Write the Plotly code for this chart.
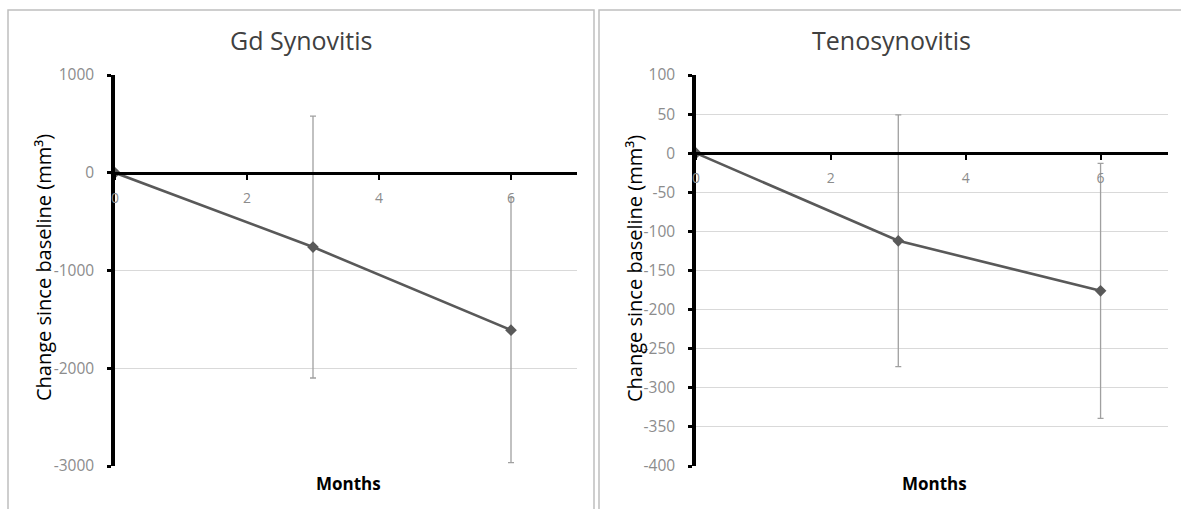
import plotly.graph_objects as go

months = [0, 3, 6]
gd_values = [0, -760, -1610]
gd_err = [0, 1340, 1355]
teno_values = [0, -112, -176]
teno_err = [0, 161, 163]

titles = ["Gd Synovitis", "Tenosynovitis"]
y_title = "Change since baseline (mm³)"
x_title = "Months"
x_ticks = [0, 2, 4, 6]
x_range = [0, 7]
gd_range = [-3000, 1000]
gd_ticks = [-3000, -2000, -1000, 0, 1000]
gd_tick_labels = ["-3000", "-2000", "-1000", "0", "1000"]
teno_range = [-400, 100]
teno_ticks = [-400, -350, -300, -250, -200, -150, -100, -50, 0, 50, 100]
teno_tick_labels = ["-400", "-350", "-300", "-250", "-200", "-150", "-100",
                    "-50", "0", "50", "100"]

W, H = 1181, 509
FONT = "Open Sans"
ydom = [1 - 466 / H, 1 - 75 / H]
xdoms = [[115 / W, 577 / W], [696 / W, 1168 / W]]
title_x = [301 / W, 891 / W]
ytitle_x = [43 / W, 634 / W]

fig = go.Figure()

panels = [
    (gd_values, gd_err, gd_range, gd_ticks, gd_tick_labels),
    (teno_values, teno_err, teno_range, teno_ticks, teno_tick_labels),
]

for i, (vals, err, yr, tv, tt) in enumerate(panels):
    n = "" if i == 0 else str(i + 1)
    fig.add_trace(go.Scatter(
        x=months, y=vals,
        mode="lines+markers",
        line=dict(color="#595959", width=2.6),
        marker=dict(symbol="diamond", size=9, color="#595959"),
        error_y=dict(type="data", array=err, visible=True,
                     color="#a0a0a0", thickness=1.3, width=3),
        cliponaxis=False,
        xaxis="x" + n, yaxis="y" + n,
        showlegend=False,
    ))
    pos = ydom[0] + (ydom[1] - ydom[0]) * (0 - yr[0]) / (yr[1] - yr[0])
    fig.layout["xaxis" + n] = dict(
        domain=xdoms[i], range=x_range, anchor="free", position=pos,
        tickvals=x_ticks, showgrid=False, zeroline=False, automargin=False,
        showline=True, linecolor="black", linewidth=3,
        ticks="outside", ticklen=5, tickwidth=2, tickcolor="black",
        ticklabelstandoff=6,
        tickfont=dict(family=FONT, size=14, color="#8c8c8c"),
    )
    fig.layout["yaxis" + n] = dict(
        domain=ydom, range=yr, tickvals=tv, ticktext=tt, anchor="x" + n,
        showgrid=True, gridcolor="#d9d9d9", gridwidth=1, zeroline=False,
        automargin=False,
        showline=True, linecolor="black", linewidth=3.5,
        ticks="outside", ticklen=4, tickwidth=3, tickcolor="black",
        ticklabelstandoff=10,
        tickfont=dict(family=FONT, size=15.5, color="#8c8c8c"),
    )
    cx = (xdoms[i][0] + xdoms[i][1]) / 2
    fig.add_annotation(text=titles[i], x=title_x[i], y=1 - 40 / H,
                       xref="paper", yref="paper", showarrow=False,
                       xanchor="center", yanchor="middle",
                       font=dict(family=FONT, size=25, color="#404040"))
    fig.add_annotation(text="<b>" + x_title + "</b>", x=cx + 2 / W, y=1 - 483 / H,
                       xref="paper", yref="paper", showarrow=False,
                       xanchor="center", yanchor="middle",
                       font=dict(family=FONT, size=17, color="black"))
    fig.add_annotation(text=y_title, x=ytitle_x[i], y=1 - 268 / H,
                       xref="paper", yref="paper", showarrow=False,
                       xanchor="center", yanchor="middle",
                       textangle=-90,
                       font=dict(family=FONT, size=20, color="black"))

# panel frames
fig.add_shape(type="rect", xref="paper", yref="paper",
              x0=8 / W, x1=594 / W, y0=-0.05, y1=1 - 10 / H,
              line=dict(color="#bfbfbf", width=1.5))
fig.add_shape(type="rect", xref="paper", yref="paper",
              x0=599 / W, x1=1.05, y0=-0.05, y1=1 - 10 / H,
              line=dict(color="#bfbfbf", width=1.5))

fig.update_layout(
    width=W, height=H,
    margin=dict(l=0, r=0, t=0, b=0, autoexpand=False),
    paper_bgcolor="white", plot_bgcolor="white",
    font=dict(family=FONT),
)

fig.write_html("out.html",
               config={"displayModeBar": False},
               post_script="document.body.style.margin='0';"
                           "document.body.style.overflow='hidden';")
